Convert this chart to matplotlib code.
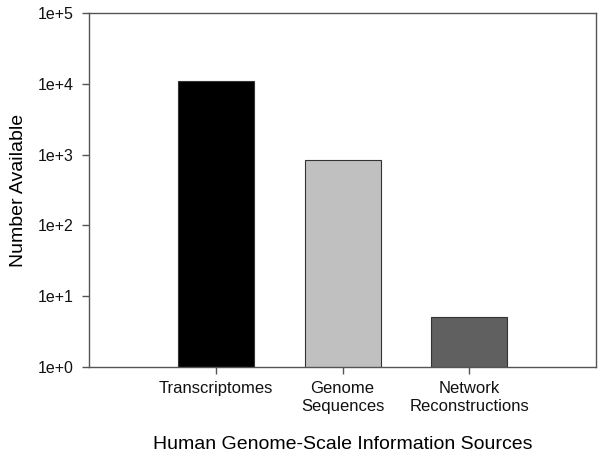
import numpy as np
import matplotlib.pyplot as plt
from matplotlib.ticker import FixedLocator, NullLocator

plt.rcParams['font.family'] = ['Liberation Sans', 'DejaVu Sans']

# Data
categories = ['Transcriptomes', 'Genome\nSequences', 'Network\nReconstructions']
counts = [11000, 840, 5]
bar_colors = ['#000000', '#c0c0c0', '#606060']
ytick_vals = [1, 10, 100, 1000, 10000, 100000]
ytick_labels = ['1e+0', '1e+1', '1e+2', '1e+3', '1e+4', '1e+5']

fig = plt.figure(figsize=(6.02, 4.54), dpi=100)
ax = fig.add_axes([0.148, 0.192, 0.842, 0.779])

x = np.arange(1, len(categories) + 1)
ax.bar(x, counts, width=0.6, color=bar_colors, edgecolor='#333333', linewidth=0.8)

ax.set_yscale('log')
ax.set_ylim(1, 1e5)
ax.set_xlim(0, 4)
ax.yaxis.set_major_locator(FixedLocator(ytick_vals))
ax.yaxis.set_minor_locator(NullLocator())
ax.set_yticklabels(ytick_labels, fontsize=11.5)
ax.set_xticks(x)
ax.set_xticklabels(categories, linespacing=1.25, fontsize=12)

for s in ax.spines.values():
    s.set_color('#555555')
    s.set_linewidth(1.0)
ax.tick_params(axis='both', direction='out', length=5, width=1, color='#555555',
               labelcolor='#111111')
ax.tick_params(axis='y', pad=6)
ax.tick_params(axis='x', pad=5)

ax.set_ylabel('Number Available', fontsize=14, labelpad=8)
ax.set_xlabel('Human Genome-Scale Information Sources', fontsize=14, labelpad=16)

fig.savefig('out.png', dpi=100)
